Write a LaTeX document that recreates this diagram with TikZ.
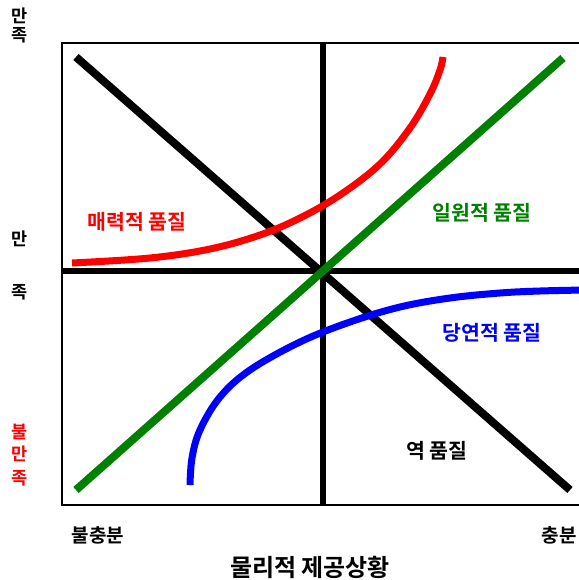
\documentclass[tikz,border=0pt]{standalone}
\usepackage{fontspec}
\setmainfont{Noto Sans CJK KR}[BoldFont={* Bold}]
\definecolor{qgreen}{RGB}{0,128,0}
\begin{document}
\begin{tikzpicture}[x=1pt,y=-1pt,
  lbl/.style={font=\fontsize{20.5}{20}\selectfont\bfseries, inner sep=0pt, anchor=center},
  side/.style={font=\fontsize{19}{19}\selectfont\bfseries, inner sep=0pt, anchor=center},
  vside/.style={font=\fontsize{17.5}{17}\selectfont\bfseries, inner sep=0pt, anchor=center},
  axisline/.style={line width=6pt, black},
  diag/.style={line width=8pt},
  curve/.style={line width=7pt}]
\useasboundingbox (0,0) rectangle (578,580);
% frame
\coordinate (fbl) at (62,505);
\coordinate (ftl) at (62,43);
\coordinate (ftr) at (585,43);
\coordinate (fbr) at (585,505);
\draw[line width=2pt] (ftr) -- (ftl) -- (fbl) -- (fbr);
% axes
\coordinate (vt) at (323,43);
\coordinate (vb) at (323,505);
\coordinate (hl) at (62,271);
\coordinate (hr) at (585,271);
\draw[axisline] (vt) -- (vb);
\draw[axisline] (hl) -- (hr);
% reverse quality (black)
\coordinate (b1) at (76,57);
\coordinate (b2) at (570,490);
\draw[diag, black] (b1) -- (b2);
% one-dimensional (green)
\coordinate (g1) at (76,490);
\coordinate (g2) at (563,58);
\draw[diag, qgreen] (g1) -- (g2);
% attractive (red)
\draw[curve, red] plot[smooth, tension=0.6] coordinates
  {(72,263) (150,258) (210,249) (260,235) (300,218) (340,195) (380,164) (410,128) (430,94) (440,70) (443,57)};
% must-be (blue)
\draw[curve, blue] plot[smooth, tension=0.6] coordinates
  {(190,485) (192,458) (200,430) (220,397) (250,370) (300,342) (350,322) (400,307) (450,298) (500,293) (540,291) (585,290)};
% labels
\node[vside] (s1) at (20,16) {만};
\node[vside] (s2) at (20,35) {족};
\node[vside] (s3) at (20,239) {만};
\node[vside] (s4) at (20,292) {족};
\node[vside, red] (s5) at (20,432) {불};
\node[vside, red] (s6) at (20,454) {만};
\node[vside, red] (s7) at (20,478) {족};
\node[lbl, red] (la) at (137,222) {매력적 품질};
\node[lbl, qgreen] (lo) at (482,213) {일원적 품질};
\node[lbl, blue] (lm) at (492,333) {당연적 품질};
\node[lbl] (lr) at (437,451) {역 품질};
\node[side] (xl) at (98,535) {불충분};
\node[side] (xr) at (559,535) {충분};
\node[font=\fontsize{24}{24}\selectfont\bfseries, inner sep=0pt] (xt) at (310,567) {물리적 제공상황};
\end{tikzpicture}
\end{document}
